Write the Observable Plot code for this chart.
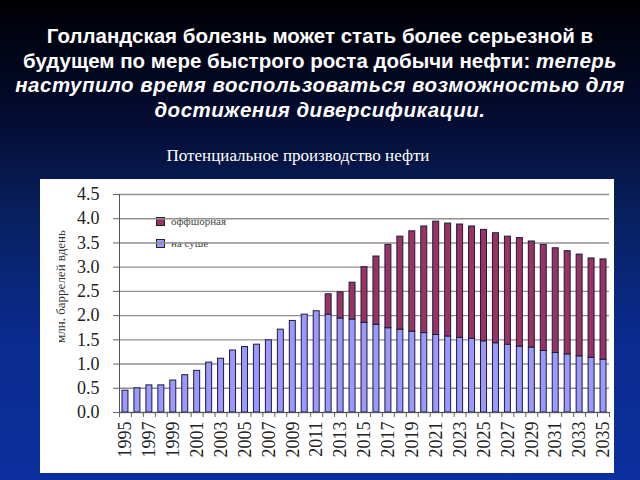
<!DOCTYPE html>
<html>
<head>
<meta charset="utf-8">
<script src="https://cdn.jsdelivr.net/npm/d3@7"></script>
<script src="https://cdn.jsdelivr.net/npm/@observablehq/plot@0.6"></script>
<style>
  html, body { margin: 0; padding: 0; }
  body {
    width: 640px; height: 480px; overflow: hidden; position: relative;
    background: linear-gradient(to bottom, #000003 0%, #030a2c 22%, #08205f 45%, #0a2b8e 70%, #0b2f9e 100%);
  }
  #title {
    position: absolute; left: 0; top: 24px; width: 640px; text-align: center;
    color: #ffffff; font-family: "Liberation Sans", Arial, sans-serif; font-weight: bold;
    font-size: 20.5px; line-height: 24.5px; white-space: nowrap;
  }
  #title i { letter-spacing: 0.5px; }
  #subtitle {
    position: absolute; left: 0; top: 146px; width: 596px; text-align: center;
    color: #ffffff; font-family: "Liberation Serif", "Times New Roman", serif; font-size: 17px;
  }
  #box {
    position: absolute; left: 40px; top: 179px; width: 574px; height: 294px; background: #ffffff;
  }
  #legend {
    position: absolute; left: 116px; top: 31px; font-family: "Liberation Serif", serif;
    font-size: 11px; color: #444;
  }
  #legend div { height: 22px; display: flex; align-items: center; }
  #legend span.sw { display: inline-block; width: 7px; height: 7px; border: 1px solid #222; margin-right: 6px; }
  #chart { position: absolute; left: 0; top: 0; }
  #chart svg { background: transparent !important; }
  #chart svg text { font-family: "Liberation Serif", "Times New Roman", serif !important; }
</style>
</head>
<body>
<div id="title">
  <div>Голландская болезнь может стать более серьезной в</div>
  <div>будущем по мере быстрого роста добычи нефти: <i>теперь</i></div>
  <div><i>наступило время воспользоваться возможностью для</i></div>
  <div><i>достижения диверсификации.</i></div>
</div>
<div id="subtitle">Потенциальное производство нефти</div>
<div id="box">
  <div id="legend"></div>
  <div id="chart"></div>
</div>
<script>
const years = [1995,1996,1997,1998,1999,2000,2001,2002,2003,2004,2005,2006,2007,2008,2009,2010,2011,2012,2013,2014,2015,2016,2017,2018,2019,2020,2021,2022,2023,2024,2025,2026,2027,2028,2029,2030,2031,2032,2033,2034,2035];
const onshore = [0.45,0.50,0.56,0.56,0.66,0.77,0.86,1.03,1.11,1.28,1.35,1.40,1.49,1.71,1.89,2.02,2.09,2.02,1.94,1.92,1.85,1.81,1.74,1.71,1.67,1.64,1.60,1.57,1.54,1.52,1.47,1.43,1.40,1.36,1.34,1.27,1.23,1.20,1.16,1.13,1.09];
const offshore = [0,0,0,0,0,0,0,0,0,0,0,0,0,0,0,0,0,0.42,0.54,0.76,1.15,1.41,1.72,1.92,2.07,2.20,2.34,2.33,2.34,2.32,2.30,2.27,2.23,2.24,2.19,2.19,2.16,2.13,2.10,2.05,2.07];
const seriesNames = ["на суше", "оффшорная"];
const seriesColors = ["#9999ff", "#993366"];
const legendOrder = ["оффшорная", "на суше"];
const yTicks = [0,0.5,1,1.5,2,2.5,3,3.5,4,4.5];
const yLabel = "млн. баррелей вдень";
const xLabelYears = years.filter((y, i) => i % 2 === 0);

const rows = [];
years.forEach((yr, i) => {
  rows.push({year: yr, type: seriesNames[0], value: onshore[i]});
  rows.push({year: yr, type: seriesNames[1], value: offshore[i]});
});

// legend (behind the SVG so the gridlines cross it as in the original)
const leg = document.getElementById("legend");
legendOrder.forEach(name => {
  const d = document.createElement("div");
  const sw = document.createElement("span");
  sw.className = "sw";
  sw.style.background = seriesColors[seriesNames.indexOf(name)];
  d.appendChild(sw);
  d.appendChild(document.createTextNode(name));
  leg.appendChild(d);
});

const serif = "Liberation Serif";
const chart = Plot.plot({
  width: 574,
  height: 294,
  marginLeft: 79,
  marginRight: 5,
  marginTop: 15,
  marginBottom: 61,
  style: {background: "transparent", fontFamily: "'Liberation Serif', serif", color: "#000"},
  x: {type: "band", domain: years, paddingInner: 0.5, paddingOuter: 0.25, axis: null},
  y: {domain: [0, 4.5], axis: null},
  color: {domain: seriesNames, range: seriesColors},
  marks: [
    Plot.gridY(yTicks, {stroke: "#8f8f8f", strokeOpacity: 1, strokeWidth: 1.4}),
    Plot.barY(rows, Plot.stackY({x: "year", y: "value", fill: "type", z: "type", stroke: "#1c1c38", strokeWidth: 1, inset: 0})),
    Plot.axisY(yTicks, {tickSize: 6, tickPadding: 14, tickFormat: d3.format(".1f"), fontSize: 18, fontFamily: serif, stroke: "#666", fill: "#222", label: null}),
    Plot.text([yLabel], {frameAnchor: "left", textAnchor: "middle", rotate: -90, dx: -59, dy: -17, fontSize: 13, fontFamily: serif, fill: "#333"}),
    Plot.axisX(years, {tickSize: 5, tickFormat: () => "", dx: -6, stroke: "#666", label: null}),
    Plot.axisX([years[years.length - 1]], {tickSize: 5, tickFormat: () => "", dx: 6, stroke: "#666", label: null}),
    Plot.axisX(xLabelYears, {tickSize: 0, tickPadding: 9, tickRotate: -90, tickFormat: d => String(d), fontSize: 18, fontFamily: serif, fill: "#222", label: null}),
    Plot.frame({anchor: "left", stroke: "#555"}),
    Plot.frame({anchor: "bottom", stroke: "#555"})
  ]
});
document.getElementById("chart").appendChild(chart);
</script>
</body>
</html>
